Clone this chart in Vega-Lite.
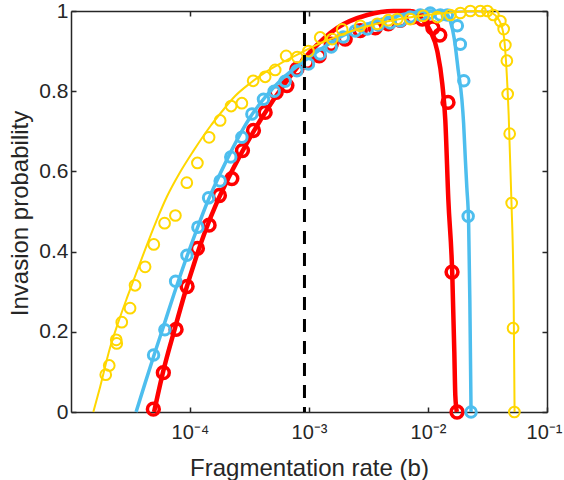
{
  "$schema": "https://vega.github.io/schema/vega-lite/v6.json",
  "width": 476,
  "height": 401,
  "autosize": "none",
  "padding": {"left": 71, "top": 11, "right": 17, "bottom": 68},
  "datasets": {
    "redLine": [
      {"x": 4.99e-5, "y": 0}, {"x": 5.94e-5, "y": 0.1}, {"x": 7.49e-5, "y": 0.21}, {"x": 9.09e-5, "y": 0.298},
      {"x": 1.104e-4, "y": 0.378}, {"x": 1.34e-4, "y": 0.45}, {"x": 1.69e-4, "y": 0.524}, {"x": 2.091e-4, "y": 0.582},
      {"x": 2.639e-4, "y": 0.64}, {"x": 4.04e-4, "y": 0.735}, {"x": 6.31e-4, "y": 0.82}, {"x": 1.023e-3, "y": 0.898},
      {"x": 1.727e-3, "y": 0.958}, {"x": 3.087e-3, "y": 0.99}, {"x": 5.11e-3, "y": 1.0}, {"x": 7.1e-3, "y": 1.0},
      {"x": 9.13e-3, "y": 0.977}, {"x": 1.045e-2, "y": 0.95}, {"x": 1.197e-2, "y": 0.9}, {"x": 1.319e-2, "y": 0.818},
      {"x": 1.398e-2, "y": 0.727}, {"x": 1.482e-2, "y": 0.53}, {"x": 1.601e-2, "y": 0.34}, {"x": 1.664e-2, "y": 0.15},
      {"x": 1.697e-2, "y": 0.04}, {"x": 1.747e-2, "y": 0}
    ],
    "redPts": [
      {"x": 4.92e-5, "y": 0.007}, {"x": 5.97e-5, "y": 0.098}, {"x": 7.64e-5, "y": 0.206}, {"x": 9.455e-5, "y": 0.313},
      {"x": 1.154e-4, "y": 0.408}, {"x": 1.447e-4, "y": 0.466}, {"x": 1.767e-4, "y": 0.54}, {"x": 2.247e-4, "y": 0.582},
      {"x": 2.759e-4, "y": 0.652}, {"x": 3.414e-4, "y": 0.702}, {"x": 4.281e-4, "y": 0.747}, {"x": 5.298e-4, "y": 0.797},
      {"x": 6.52e-4, "y": 0.814}, {"x": 7.91e-4, "y": 0.855}, {"x": 9.66e-4, "y": 0.872}, {"x": 1.218e-3, "y": 0.888},
      {"x": 1.537e-3, "y": 0.917}, {"x": 2.016e-3, "y": 0.93}, {"x": 2.696e-3, "y": 0.951}, {"x": 3.604e-3, "y": 0.958},
      {"x": 4.636e-3, "y": 0.968}, {"x": 5.848e-3, "y": 0.977}, {"x": 7.38e-3, "y": 0.985}, {"x": 8.95e-3, "y": 0.98},
      {"x": 1.098e-2, "y": 0.958}, {"x": 1.257e-2, "y": 0.94}, {"x": 1.473e-2, "y": 0.772}, {"x": 1.592e-2, "y": 0.349},
      {"x": 1.754e-2, "y": 0}
    ],
    "blueLine": [
      {"x": 3.522e-5, "y": 0}, {"x": 4.194e-5, "y": 0.072}, {"x": 4.99e-5, "y": 0.142}, {"x": 6.056e-5, "y": 0.218},
      {"x": 7.35e-5, "y": 0.295}, {"x": 9.09e-5, "y": 0.375}, {"x": 1.141e-4, "y": 0.455}, {"x": 1.385e-4, "y": 0.52},
      {"x": 1.69e-4, "y": 0.578}, {"x": 1.973e-4, "y": 0.62}, {"x": 2.304e-4, "y": 0.66}, {"x": 3.203e-4, "y": 0.735},
      {"x": 4.424e-4, "y": 0.79}, {"x": 6.102e-4, "y": 0.834}, {"x": 8.433e-4, "y": 0.868}, {"x": 1.165e-3, "y": 0.898},
      {"x": 1.83e-3, "y": 0.935}, {"x": 3.271e-3, "y": 0.97}, {"x": 5.848e-3, "y": 0.99}, {"x": 1.045e-2, "y": 1.0},
      {"x": 1.398e-2, "y": 0.995}, {"x": 1.54e-2, "y": 0.975}, {"x": 1.664e-2, "y": 0.93}, {"x": 1.798e-2, "y": 0.85},
      {"x": 1.925e-2, "y": 0.78}, {"x": 1.992e-2, "y": 0.72}, {"x": 2.06e-2, "y": 0.63}, {"x": 2.12e-2, "y": 0.56},
      {"x": 2.195e-2, "y": 0.47}, {"x": 2.247e-2, "y": 0.28}, {"x": 2.3e-2, "y": 0}
    ],
    "bluePts": [
      {"x": 4.942e-5, "y": 0.142}, {"x": 6.151e-5, "y": 0.205}, {"x": 7.57e-5, "y": 0.326}, {"x": 9.42e-5, "y": 0.391},
      {"x": 1.165e-4, "y": 0.461}, {"x": 1.433e-4, "y": 0.534}, {"x": 1.792e-4, "y": 0.576}, {"x": 2.2e-4, "y": 0.636},
      {"x": 2.728e-4, "y": 0.685}, {"x": 3.311e-4, "y": 0.743}, {"x": 4.143e-4, "y": 0.78}, {"x": 5.097e-4, "y": 0.8},
      {"x": 6.306e-4, "y": 0.825}, {"x": 7.91e-4, "y": 0.851}, {"x": 9.9e-4, "y": 0.868}, {"x": 1.242e-3, "y": 0.893},
      {"x": 1.537e-3, "y": 0.91}, {"x": 1.939e-3, "y": 0.935}, {"x": 2.446e-3, "y": 0.95}, {"x": 3.087e-3, "y": 0.955},
      {"x": 3.819e-3, "y": 0.965}, {"x": 4.818e-3, "y": 0.97}, {"x": 5.848e-3, "y": 0.975}, {"x": 7.1e-3, "y": 0.985},
      {"x": 8.61e-3, "y": 0.99}, {"x": 1.045e-2, "y": 0.995}, {"x": 1.269e-2, "y": 0.99}, {"x": 1.453e-2, "y": 0.99},
      {"x": 1.764e-2, "y": 0.963}, {"x": 1.87e-2, "y": 0.917}, {"x": 2.0e-2, "y": 0.826}, {"x": 2.175e-2, "y": 0.488},
      {"x": 2.3e-2, "y": 0}
    ],
    "yellowLine": [
      {"x": 1.54e-5, "y": 0}, {"x": 1.754e-5, "y": 0.062}, {"x": 2.128e-5, "y": 0.16}, {"x": 2.485e-5, "y": 0.222},
      {"x": 2.958e-5, "y": 0.285}, {"x": 3.522e-5, "y": 0.345}, {"x": 4.194e-5, "y": 0.405}, {"x": 5.19e-5, "y": 0.475},
      {"x": 6.42e-5, "y": 0.538}, {"x": 8.25e-5, "y": 0.598}, {"x": 1.062e-4, "y": 0.65}, {"x": 1.476e-4, "y": 0.712},
      {"x": 1.862e-4, "y": 0.75}, {"x": 2.395e-4, "y": 0.788}, {"x": 3.203e-4, "y": 0.82}, {"x": 4.281e-4, "y": 0.847},
      {"x": 6.067e-4, "y": 0.873}, {"x": 8.433e-4, "y": 0.895}, {"x": 1.172e-3, "y": 0.916}, {"x": 1.661e-3, "y": 0.935},
      {"x": 2.221e-3, "y": 0.949}, {"x": 4.207e-3, "y": 0.972}, {"x": 8.128e-3, "y": 0.987}, {"x": 1.54e-2, "y": 0.996},
      {"x": 2.598e-2, "y": 1.0}, {"x": 3.341e-2, "y": 0.996}, {"x": 3.903e-2, "y": 0.98}, {"x": 4.324e-2, "y": 0.94},
      {"x": 4.555e-2, "y": 0.86}, {"x": 4.764e-2, "y": 0.74}, {"x": 5.02e-2, "y": 0.53}, {"x": 5.248e-2, "y": 0.28},
      {"x": 5.34e-2, "y": 0}
    ],
    "yellowPts": [
      {"x": 1.958e-5, "y": 0.093}, {"x": 2.096e-5, "y": 0.116}, {"x": 2.4e-5, "y": 0.18}, {"x": 2.423e-5, "y": 0.171},
      {"x": 2.67e-5, "y": 0.224}, {"x": 3.135e-5, "y": 0.259}, {"x": 3.453e-5, "y": 0.316}, {"x": 4.194e-5, "y": 0.362},
      {"x": 4.962e-5, "y": 0.418}, {"x": 6.115e-5, "y": 0.471}, {"x": 7.54e-5, "y": 0.49}, {"x": 9.4e-5, "y": 0.572},
      {"x": 1.154e-4, "y": 0.621}, {"x": 1.447e-4, "y": 0.685}, {"x": 1.792e-4, "y": 0.727}, {"x": 2.217e-4, "y": 0.763},
      {"x": 2.728e-4, "y": 0.77}, {"x": 3.394e-4, "y": 0.826}, {"x": 4.281e-4, "y": 0.836}, {"x": 5.196e-4, "y": 0.853},
      {"x": 6.43e-4, "y": 0.888}, {"x": 7.96e-4, "y": 0.885}, {"x": 9.9e-4, "y": 0.9}, {"x": 1.242e-3, "y": 0.934},
      {"x": 1.567e-3, "y": 0.93}, {"x": 1.902e-3, "y": 0.954}, {"x": 2.696e-3, "y": 0.963}, {"x": 3.747e-3, "y": 0.968},
      {"x": 4.636e-3, "y": 0.977}, {"x": 5.518e-3, "y": 0.98}, {"x": 7.1e-3, "y": 0.98}, {"x": 9.13e-3, "y": 0.988},
      {"x": 1.197e-2, "y": 0.985}, {"x": 1.54e-2, "y": 0.99}, {"x": 1.87e-2, "y": 0.995}, {"x": 2.269e-2, "y": 1.0},
      {"x": 2.754e-2, "y": 1.0}, {"x": 3.154e-2, "y": 1.0}, {"x": 3.542e-2, "y": 0.99}, {"x": 4.057e-2, "y": 0.975},
      {"x": 4.324e-2, "y": 0.955}, {"x": 4.468e-2, "y": 0.915}, {"x": 4.6e-2, "y": 0.876}, {"x": 4.672e-2, "y": 0.793},
      {"x": 4.856e-2, "y": 0.694}, {"x": 5.048e-2, "y": 0.521}, {"x": 5.187e-2, "y": 0.209}, {"x": 5.319e-2, "y": 0}
    ],
    "dash": [{"x": 9.16e-4}]
  },
  "layer": [
    {
      "data": {"name": "redLine"},
      "mark": {"type": "line", "color": "#FF0000", "strokeWidth": 4.5, "interpolate": "monotone"},
      "encoding": {
        "x": {"field": "x", "type": "quantitative", "scale": {"type": "log", "domain": [1e-5, 0.1], "nice": false},
          "axis": {"orient": "bottom", "values": [0.0001, 0.001, 0.01, 0.1],
            "labelExpr": "datum.value < 0.0005 ? '10⁻⁴' : datum.value < 0.005 ? '10⁻³' : datum.value < 0.05 ? '10⁻²' : '10⁻¹'",
            "title": "Fragmentation rate (b)", "labelFlush": false, "labelOverlap": false, "labelBound": false,
            "labelFontSize": 20, "labelPadding": 15,
            "labelOffset": {"condition": {"test": "datum.value > 0.05", "value": -3}, "value": 0},
            "titleY": 63, "titleBaseline": "alphabetic"}},
        "y": {"field": "y", "type": "quantitative", "scale": {"domain": [0, 1], "nice": false, "zero": false},
          "axis": {"orient": "left", "values": [0, 0.2, 0.4, 0.6, 0.8, 1], "format": "~g",
            "title": "Invasion probability", "labelPadding": 8, "titleX": -44, "titleY": 202, "titleBaseline": "alphabetic", "titleAngle": -90}}
      }
    },
    {
      "data": {"name": "redPts"},
      "mark": {"type": "point", "shape": "circle", "filled": false, "color": "#FF0000", "strokeWidth": 3.5, "size": 140, "opacity": 1},
      "encoding": {
        "x": {"field": "x", "type": "quantitative", "scale": {"type": "log", "domain": [1e-5, 0.1], "nice": false}, "axis": null},
        "y": {"field": "y", "type": "quantitative", "scale": {"domain": [0, 1], "nice": false, "zero": false}, "axis": null}
      }
    },
    {
      "data": {"name": "blueLine"},
      "mark": {"type": "line", "color": "#4DBEEE", "strokeWidth": 3.5, "interpolate": "monotone"},
      "encoding": {
        "x": {"field": "x", "type": "quantitative", "scale": {"type": "log", "domain": [1e-5, 0.1], "nice": false}, "axis": null},
        "y": {"field": "y", "type": "quantitative", "scale": {"domain": [0, 1], "nice": false, "zero": false}, "axis": null}
      }
    },
    {
      "data": {"name": "bluePts"},
      "mark": {"type": "point", "shape": "circle", "filled": false, "color": "#4DBEEE", "strokeWidth": 3, "size": 110, "opacity": 1},
      "encoding": {
        "x": {"field": "x", "type": "quantitative", "scale": {"type": "log", "domain": [1e-5, 0.1], "nice": false}, "axis": null},
        "y": {"field": "y", "type": "quantitative", "scale": {"domain": [0, 1], "nice": false, "zero": false}, "axis": null}
      }
    },
    {
      "data": {"name": "yellowLine"},
      "mark": {"type": "line", "color": "#FFD700", "strokeWidth": 2, "interpolate": "monotone"},
      "encoding": {
        "x": {"field": "x", "type": "quantitative", "scale": {"type": "log", "domain": [1e-5, 0.1], "nice": false}, "axis": null},
        "y": {"field": "y", "type": "quantitative", "scale": {"domain": [0, 1], "nice": false, "zero": false}, "axis": null}
      }
    },
    {
      "data": {"name": "yellowPts"},
      "mark": {"type": "point", "shape": "circle", "filled": false, "color": "#FFD700", "strokeWidth": 2, "size": 115, "opacity": 1},
      "encoding": {
        "x": {"field": "x", "type": "quantitative", "scale": {"type": "log", "domain": [1e-5, 0.1], "nice": false}, "axis": null},
        "y": {"field": "y", "type": "quantitative", "scale": {"domain": [0, 1], "nice": false, "zero": false}, "axis": null}
      }
    },
    {
      "data": {"name": "dash"},
      "mark": {"type": "rule", "color": "#000000", "strokeWidth": 3, "strokeDash": [13, 9]},
      "encoding": {
        "x": {"field": "x", "type": "quantitative", "scale": {"type": "log", "domain": [1e-5, 0.1], "nice": false},
          "axis": {"orient": "top", "values": [0.0001, 0.001, 0.01, 0.1], "labels": false, "title": null}},
        "y": {"datum": 1, "type": "quantitative", "scale": {"domain": [0, 1], "nice": false, "zero": false},
          "axis": {"orient": "right", "values": [0, 0.2, 0.4, 0.6, 0.8, 1], "labels": false, "title": null}},
        "y2": {"datum": 0}
      }
    }
  ],
  "resolve": {"axis": {"x": "independent", "y": "independent"}},
  "config": {
    "view": {"stroke": null},
    "axis": {
      "grid": false, "domainColor": "#262626", "tickColor": "#262626", "labelColor": "#262626", "titleColor": "#262626",
      "labelFont": "Liberation Sans", "titleFont": "Liberation Sans", "labelFontSize": 21, "titleFontSize": 24,
      "titleFontWeight": "normal", "tickSize": -5, "domainWidth": 1.5, "tickWidth": 1.5
    }
  }
}
